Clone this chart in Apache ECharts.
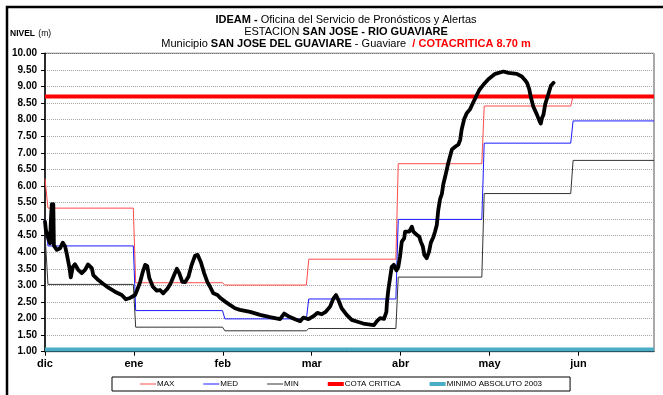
<!DOCTYPE html>
<html>
<head>
<meta charset="utf-8">
<script src="https://cdn.jsdelivr.net/npm/echarts@6/dist/echarts.min.js"></script>
<style>
  html, body { margin: 0; padding: 0; background: #fff; }
  #chart { width: 663px; height: 395px; }
</style>
</head>
<body>
<div id="chart"></div>
<script>
// Month labels placed every 30 days from 1 December
const monthLabels = ['dic', 'ene', 'feb', 'mar', 'abr', 'may', 'jun'];

// Day (from 1 Dec) on which each monthly reference level begins
const monthStartDay = [1, 30.6, 60.7, 89, 119.2, 148.2, 178.2];
const lastDay = 205.5;

// Monthly historical levels (m)
const maxLevels = [5.33, 3.08, 3.01, 3.79, 6.67, 8.41, 8.72];
const medLevels = [4.19, 2.24, 1.99, 2.59, 4.99, 7.29, 7.96];
const minLevels = [3.03, 1.74, 1.63, 1.70, 3.25, 5.77, 6.77];
// Opening values on the first day
const maxOpen = 6.22, medOpen = 4.99, minOpen = 4.55;

// Reference thresholds (m)
const cotaCritica = 8.70;
const minimoAbsoluto2003 = 1.07;

// Observed river level: day from 1 Dec and level (m)
const obsDays = [0, 0.3, 1.1, 1.7, 2.0, 2.3, 2.5, 2.8, 3.0, 4.0, 5.1, 6.0, 6.8, 7.3, 8.2, 8.7, 9.4, 10.1,
  11.2, 12.4, 13.5, 14.5, 15.8, 16.3, 18.0, 19.7, 21.4, 23.6, 25.9, 27.3, 28.7, 30.4, 31.1, 32.1, 33.0,
  33.8, 34.5, 35.2, 36.4, 37.7, 38.8, 39.9, 41.3, 42.4, 43.5, 44.5, 45.3, 46.3, 47.3, 48.4, 49.5, 50.6,
  51.5, 52.6, 53.7, 54.8, 55.7, 56.8, 58.2, 59.3, 60.8, 62.4, 64.1, 65.8, 69.2, 72.6, 75.9, 79.3, 80.7,
  82.1, 84.4, 86.1, 87.2, 88.9, 90.6, 91.9, 93.4, 94.8, 96.2, 97.3, 98.2, 99.0, 100.1, 101.8, 103.5,
  105.2, 107.4, 109.7, 111.0, 112.0, 113.1, 114.4, 115.2, 115.4, 115.9, 116.4, 117.0, 117.7, 118.6,
  119.2, 119.8, 120.4, 121.2, 121.5, 122.1, 122.9, 123.8, 124.3, 125.5, 126.3, 126.8, 127.5, 128.0,
  128.8, 129.6, 130.2, 131.1, 131.6, 132.2, 132.7, 133.3, 133.9, 134.4, 135.3, 136.1, 137.3, 138.4,
  139.5, 140.1, 140.6, 141.4, 142.3, 143.4, 144.4, 145.5, 146.6, 147.9, 149.6, 151.9, 154.7, 156.4,
  159.2, 160.9, 162.0, 162.7, 163.4, 163.9, 164.8, 166.0, 166.8, 167.3, 167.7, 168.2, 168.8, 169.9,
  170.7, 171.6];
const obsLevels = [4.92, 4.67, 4.42, 4.27, 5.00, 5.45, 4.30, 5.45, 4.20, 4.07, 4.12, 4.29, 4.17, 3.97,
  3.56, 3.24, 3.56, 3.64, 3.47, 3.37, 3.47, 3.63, 3.52, 3.31, 3.16, 3.04, 2.93, 2.81, 2.71, 2.58, 2.62,
  2.71, 2.86, 3.10, 3.41, 3.62, 3.58, 3.22, 2.96, 2.84, 2.86, 2.76, 2.90, 3.06, 3.30, 3.50, 3.37, 3.11,
  3.10, 3.26, 3.62, 3.89, 3.92, 3.70, 3.37, 3.10, 2.96, 2.76, 2.71, 2.61, 2.51, 2.41, 2.31, 2.26, 2.20,
  2.11, 2.04, 1.98, 2.15, 2.07, 1.98, 1.92, 2.03, 1.98, 2.07, 2.17, 2.13, 2.21, 2.36, 2.60, 2.71, 2.56,
  2.31, 2.11, 1.96, 1.91, 1.85, 1.82, 1.80, 1.92, 2.01, 1.99, 2.20, 2.50, 2.90, 3.20, 3.56, 3.62, 3.45,
  3.55, 3.87, 4.32, 4.42, 4.62, 4.67, 4.62, 4.77, 4.62, 4.52, 4.47, 4.32, 4.17, 3.92, 3.82, 4.02, 4.29,
  4.47, 4.62, 4.82, 5.27, 5.60, 5.75, 6.05, 6.38, 6.70, 7.10, 7.18, 7.25, 7.39, 7.70, 8.00, 8.19, 8.31,
  8.50, 8.70, 8.90, 9.05, 9.22, 9.38, 9.45, 9.41, 9.38, 9.30, 9.19, 9.10, 8.92, 8.69, 8.39, 8.15, 7.97,
  7.88, 8.05, 8.15, 8.47, 8.78, 9.02, 9.11];

// Monthly steps: each level holds until the day before the next month begins
function stepSeries(open, levels) {
  const pts = [[0, open]];
  levels.forEach((v, i) => {
    pts.push([monthStartDay[i], v]);
    const end = i + 1 < monthStartDay.length ? monthStartDay[i + 1] - 0.8 : lastDay;
    pts.push([end, v]);
  });
  return pts;
}
const flat = v => [[0, v], [lastDay, v]];
const observed = obsDays.map((d, i) => [d, obsLevels[i]]);

const FONT = 'Liberation Sans, Arial, sans-serif';
const THIN_ICON = 'path://M0 0H16V1H0Z';
const THICK_ICON = 'path://M0 0H16V4H0Z';

const chart = echarts.init(document.getElementById('chart'), null, { renderer: 'canvas' });
chart.setOption({
  animation: false,
  backgroundColor: '#fff',
  textStyle: { fontFamily: FONT },
  title: {
    left: 341, top: 9, textAlign: 'center',
    text: '{b|IDEAM -} {n|Oficina del Servicio de Pronósticos y Alertas}\n' +
          '{n|ESTACION }{b|SAN JOSE - RIO GUAVIARE}\n' +
          '{n|Municipio }{b|SAN JOSE DEL GUAVIARE}{n| - Guaviare  }{r|/ COTACRITICA 8.70 m}',
    textStyle: {
      fontFamily: FONT, fontSize: 11, lineHeight: 12, color: '#000', fontWeight: 'normal',
      rich: {
        n: { fontFamily: FONT, fontSize: 11, lineHeight: 12, fontWeight: 'normal', color: '#000' },
        b: { fontFamily: FONT, fontSize: 11, lineHeight: 12, fontWeight: 'bold', color: '#000' },
        r: { fontFamily: FONT, fontSize: 11, lineHeight: 12, fontWeight: 'bold', color: '#ff0000' }
      }
    }
  },
  graphic: [
    { type: 'rect', shape: { x: 7, y: 7, width: 680, height: 420 },
      style: { fill: 'none', stroke: '#000', lineWidth: 2.5 }, silent: true },
    { type: 'text', left: 10, top: 28,
      style: { text: '{b|NIVEL} {n|(m)}', rich: {
        b: { fontFamily: FONT, fontSize: 8.5, fontWeight: 'bold', fill: '#000' },
        n: { fontFamily: FONT, fontSize: 8.5, fill: '#000' } } } }
  ],
  legend: {
    left: 112, top: 377,
    padding: [3, 28, 3, 28],
    borderColor: '#000', borderWidth: 1,
    itemWidth: 16, itemHeight: 6, itemGap: 29,
    textStyle: { fontFamily: FONT, fontSize: 8, color: '#000', padding: [0, 0, 0, -4] },
    data: [
      { name: 'MAX', icon: THIN_ICON },
      { name: 'MED', icon: THIN_ICON },
      { name: 'MIN', icon: THIN_ICON },
      { name: 'COTA CRITICA', icon: THICK_ICON },
      { name: 'MINIMO ABSOLUTO 2003', icon: THICK_ICON }
    ]
  },
  grid: { left: 45, right: 9, top: 53.3, bottom: 43.3, show: true, borderColor: '#555', borderWidth: 1 },
  xAxis: {
    type: 'value', min: 0, max: lastDay, interval: 30,
    axisLine: { lineStyle: { color: '#000', width: 1 } },
    axisTick: { show: true, length: 4, lineStyle: { color: '#000' }, customValues: [0, 30, 60, 90, 120, 150, 180] },
    splitLine: { show: false },
    axisLabel: {
      customValues: [0, 30, 60, 90, 120, 150, 180],
      formatter: v => monthLabels[Math.round(v / 30)] || '',
      fontFamily: FONT, fontSize: 11, fontWeight: 'bold', color: '#000', margin: 7
    }
  },
  yAxis: {
    type: 'value', min: 1, max: 10, interval: 0.5,
    axisLine: { show: true, lineStyle: { color: '#000', width: 1.5 } },
    axisTick: { show: true, length: 4, lineStyle: { color: '#000' } },
    splitLine: { show: true, lineStyle: { color: '#a6a6a6', type: [1, 1], width: 1 } },
    axisLabel: {
      formatter: v => v.toFixed(2),
      fontFamily: FONT, fontSize: 10, fontWeight: 'bold', color: '#000', margin: 8
    }
  },
  series: [
    { name: 'MINIMO ABSOLUTO 2003', type: 'line', data: flat(minimoAbsoluto2003), showSymbol: false,
      symbol: 'none', color: '#4bacc6', lineStyle: { color: '#4bacc6', width: 4 }, z: 2 },
    { name: 'MAX', type: 'line', data: stepSeries(maxOpen, maxLevels), showSymbol: false, symbol: 'none',
      color: '#ff4c4c', lineStyle: { color: '#ff4c4c', width: 1 }, z: 3 },
    { name: 'MED', type: 'line', data: stepSeries(medOpen, medLevels), showSymbol: false, symbol: 'none',
      color: '#1a1aff', lineStyle: { color: '#1a1aff', width: 1 }, z: 3 },
    { name: 'MIN', type: 'line', data: stepSeries(minOpen, minLevels), showSymbol: false, symbol: 'none',
      color: '#333', lineStyle: { color: '#333', width: 1 }, z: 3 },
    { name: 'COTA CRITICA', type: 'line', data: flat(cotaCritica), showSymbol: false, symbol: 'none',
      color: '#ff0000', lineStyle: { color: '#ff0000', width: 4 }, z: 4 },
    { name: 'NIVEL', type: 'line', data: observed, showSymbol: false, symbol: 'none',
      color: '#000', lineStyle: { color: '#000', width: 3.8, join: 'round', cap: 'round' }, z: 5 }
  ]
});
</script>
</body>
</html>
